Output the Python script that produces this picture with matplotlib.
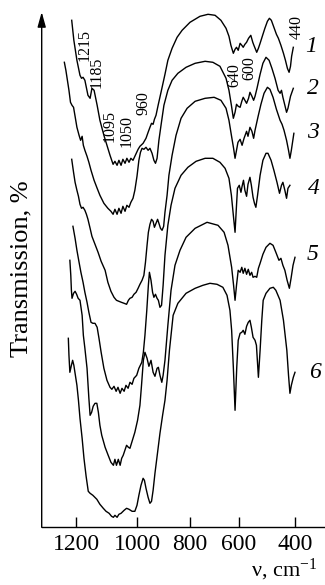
import numpy as np
import matplotlib
matplotlib.use("Agg")
import matplotlib.pyplot as plt

plt.rcParams['font.family'] = ['Liberation Serif', 'DejaVu Serif']
plt.rcParams['mathtext.fontset'] = 'custom'
plt.rcParams['mathtext.rm'] = 'Liberation Serif'
plt.rcParams['mathtext.it'] = 'Liberation Serif:italic'

# ---------------- data (wavenumber, transmission in arbitrary units) ----------------
wn1 = [1214,1207,1197,1187,1182,1177,1171,1161,1154,1148,1141,1131,1122,1109,1099,1089,1079,1073,1066,1060,
       1053,1047,1040,1034,1027,1021,1014,1008,997,990,978,967,959,952,946,940,935,929,921,910,895,884,868,849,
       830,800,759,726,697,673,652,640,632,622,615,609,602,595,589,584,578,572,565,557,550,546,536,530,524,515,
       507,498,491,484,475,466,459,450,441,434,427,421,416,412,406]
t1 = [507,487,467,452,449,450,447,432,429,439,437,422,407,392,382,372,363,366,362,367,
      362,368,364,369,365,369,367,371,378,381,384,389,395,400,404,403,408,412,422,435,453,467,479,490,
      497,505,511,513,512,507,499,491,482,474,478,480,477,484,482,480,483,485,489,492,485,482,475,479,484,492,
      499,506,509,507,500,493,489,482,474,467,459,455,461,471,480]

wn2 = [1238,1233,1228,1223,1218,1213,1208,1203,1197,1190,1185,1180,1176,1171,1164,1158,1151,1141,1131,1122,
       1109,1096,1086,1079,1073,1066,1060,1053,1047,1040,1034,1027,1021,1014,1008,1001,994,988,982,975,967,959,
       952,944,937,931,925,918,910,899,884,868,846,815,779,738,706,677,652,640,630,622,615,609,602,595,589,584,
       578,572,565,560,553,547,542,535,524,514,503,492,482,471,460,453,448,443,436,430,425,416,406]
t2 = [465,457,447,437,425,422,420,411,400,392,387,391,382,377,371,365,357,347,339,332,
      324,319,316,313,318,313,319,314,321,316,322,320,325,329,337,351,367,375,379,378,380,377,
      379,374,367,364,369,387,402,422,437,447,454,460,464,466,465,461,449,437,422,409,415,423,421,420,426,430,
      427,424,429,435,431,427,431,439,453,464,470,467,459,449,437,434,437,430,422,415,419,431,439]

wn3 = [1214,1208,1203,1197,1192,1187,1182,1177,1171,1166,1161,1154,1148,1138,1128,1118,1105,1096,1086,1076,
       1068,1060,1052,1043,1035,1029,1024,1017,1011,1004,997,990,982,975,969,963,958,952,946,940,935,929,923,
       918,912,906,900,895,887,880,868,853,834,811,779,738,701,673,652,640,630,621,615,609,603,595,588,581,
       572,567,560,553,547,542,531,521,510,498,489,478,466,453,446,439,430,423,418,413,404]
t3 = [368,355,345,337,331,323,319,320,317,313,308,299,291,283,275,266,257,245,236,230,
      227,226,225,224,223,227,229,230,233,235,239,243,247,252,265,282,295,303,308,306,300,304,308,
      304,299,297,301,315,332,352,372,392,409,419,426,429,430,427,419,407,392,379,369,377,385,388,382,389,
      396,391,400,396,389,397,411,423,434,440,438,430,418,407,403,397,387,377,369,377,394]

wn4 = [1210,1203,1197,1190,1184,1177,1171,1164,1158,1151,1145,1138,1131,1125,1118,1109,1099,1089,1083,1076,
       1069,1063,1056,1050,1043,1037,1030,1024,1017,1011,1002,994,983,977,971,964,958,954,948,942,937,931,925,
       920,914,908,902,895,884,872,857,834,808,775,738,706,677,656,640,630,622,615,609,605,598,592,588,583,
       578,572,567,560,555,549,544,539,533,524,514,503,496,485,475,464,455,448,443,436,430,425,418]
t4 = [301,289,277,265,255,245,235,225,215,205,204,204,200,189,175,159,147,140,138,141,
      136,140,134,139,136,142,139,145,143,149,152,159,165,175,192,217,242,255,247,235,230,233,229,
      227,220,222,242,272,302,322,339,352,360,366,369,369,365,359,349,332,312,295,322,339,342,335,341,347,
      337,331,343,350,342,330,324,320,332,352,367,374,374,367,357,345,334,342,345,337,329,339,342]

wn5 = [1220,1217,1215,1213,1208,1203,1198,1193,1187,1180,1176,1171,1164,1158,1154,1149,1144,1138,1132,1127,
       1122,1116,1105,1095,1086,1078,1073,1068,1062,1056,1051,1046,1035,1029,1024,1016,1008,999,990,984,977,
       971,963,956,948,940,933,925,920,914,907,902,895,884,872,857,838,815,779,730,685,660,644,629,621,615,
       609,602,595,589,584,578,572,566,560,554,549,542,536,530,524,514,503,489,478,468,457,450,443,436,428,
       420,414,407,400]
t5 = [267,252,237,229,234,236,233,229,227,212,192,179,159,129,112,115,121,124,124,115,
      102,92,80,72,65,62,68,62,68,62,69,72,82,80,79,87,95,107,122,142,167,
      175,169,161,167,155,151,159,160,152,145,152,167,202,237,262,277,290,299,305,302,295,282,260,242,227,
      242,257,255,260,254,259,253,258,252,255,250,251,250,259,264,273,280,284,282,275,267,269,262,257,247,
      239,249,262,270]

wn6 = [1225,1223,1220,1215,1211,1207,1202,1197,1192,1187,1180,1174,1167,1160,1154,1145,1132,1122,1111,1102,
       1092,1084,1078,1073,1066,1060,1053,1043,1035,1027,1017,1008,1001,994,986,978,973,967,959,952,946,940,
       933,923,914,904,895,887,878,864,846,815,779,747,718,689,665,648,636,629,622,615,608,602,595,589,584,
       578,572,566,560,555,549,542,537,530,524,518,513,503,489,477,468,453,441,429,423,418,413,406,400]
t6 = [189,172,155,162,167,162,152,142,127,109,89,69,51,36,34,32,28,23,19,16,
      14,11,10,12,10,13,14,17,19,18,16,16,22,32,42,49,47,39,30,24,26,37,
      54,75,94,112,127,147,177,212,224,234,239,242,244,243,240,232,217,197,160,117,160,187,194,195,197,
      193,201,205,207,200,190,187,182,150,177,207,227,234,239,240,237,227,207,177,152,134,142,150,155]

series = [(wn1, t1), (wn2, t2), (wn3, t3), (wn4, t4), (wn5, t5), (wn6, t6)]
curve_labels = ['1', '2', '3', '4', '5', '6']
band_labels = ['1215', '1185', '1095', '1050', '960', '640', '600', '440']
band_pos = [(1171, 482), (1132, 455), (1089, 401), (1036, 396), (977, 424), (616, 452), (561, 459), (394, 500)]
xticks = [1200, 1000, 800, 600, 400]

# ---------------- non-uniform wavenumber scale of the original spectrometer chart ----------------
_K_WN = np.array([200, 400, 600, 800, 1000, 1200, 1400], dtype=float)
_K_P = -np.array([351.3, 295.0, 238.7, 190.0, 137.3, 76.0, 14.7])

def fwd(w):
    return np.interp(w, _K_WN, _K_P)

def inv(p):
    return np.interp(p, _K_P, _K_WN)

W, H = 325, 585
fig = plt.figure(figsize=(W / 100, H / 100), dpi=100)
ax = fig.add_axes([41.7 / W, (H - 527.3) / H, (W - 41.7) / W, (527.3 - 12) / H])
ax.set_xscale('function', functions=(fwd, inv))
ax.set_xlim(inv(-41.7), inv(-325.0))
ax.set_ylim(0, 515.3)

for wn, t in series:
    ax.plot(wn, t, color='black', lw=1.0, solid_joinstyle='round')

for lab, (x, y) in zip(band_labels, band_pos):
    ax.text(x, y, lab, rotation=90, ha='center', va='center', fontsize=11.5)

ax.spines['top'].set_visible(False)
ax.spines['right'].set_visible(False)
ax.spines['left'].set_visible(False)
ax.spines['bottom'].set_linewidth(1.0)
ax.set_xticks(xticks)
ax.set_xticklabels([str(v) for v in xticks], fontsize=17)
ax.xaxis.set_minor_locator(matplotlib.ticker.NullLocator())
ax.tick_params(axis='x', direction='in', length=7, width=1.0, pad=5)
ax.set_yticks([])
ax.patch.set_alpha(0)

ax.annotate('', xy=(0, 1), xytext=(0, 0), xycoords='axes fraction',
            arrowprops=dict(arrowstyle='-|>,head_length=0.9,head_width=0.25', lw=1.0, color='black',
                            shrinkA=0, shrinkB=0))

fig.text(21 / W, 1 - 269 / H, 'Transmission, %', rotation=90, ha='center', va='center', fontsize=19)
fig.text(317 / W, 1 - 583 / H, r'ν, cm$^{-1}$', ha='right', va='bottom', fontsize=16)

label_xy = [(311, 47), (313, 88), (313, 133), (314, 189), (313, 255), (315, 373)]
for lab, (x, y) in zip(curve_labels, label_xy):
    fig.text(x / W, 1 - y / H, lab, ha='center', va='center', fontsize=17, style='italic')

fig.savefig('out.png', dpi=100)
